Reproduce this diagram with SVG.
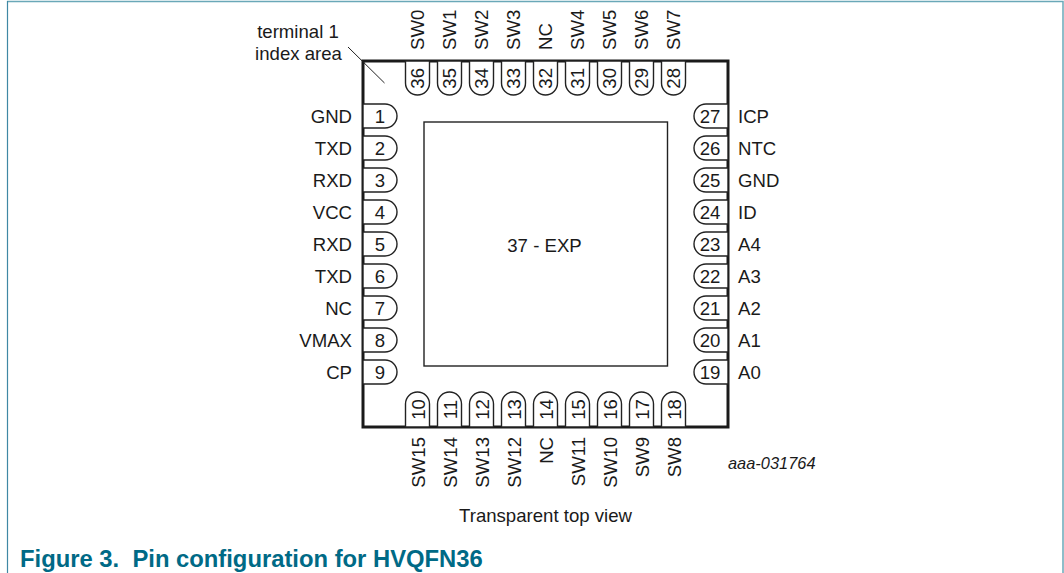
<svg xmlns="http://www.w3.org/2000/svg" xmlns:xlink="http://www.w3.org/1999/xlink" width="1064" height="573" viewBox="0 0 1064 573">
<style>
text{font-family:"Liberation Sans",Arial,sans-serif;font-size:18.6px;fill:#1a1a1a}
.m{text-anchor:middle}
.e{text-anchor:end}
.p{fill:#fff;stroke:#222;stroke-width:1.4}
.body{fill:#fff;stroke:#1a1a1a;stroke-width:3}
.pad{fill:#fff;stroke:#222;stroke-width:1.4}
.cap{font-weight:bold;font-size:23.8px;fill:#006a86;white-space:pre}
</style>
<defs>
<path id="pl" class="p" d="M0 -12H22A12 12 0 0 1 22 12H0Z"/>
<path id="pr" class="p" d="M0 -12H-22A12 12 0 0 0 -22 12H0Z"/>
<path id="pt" class="p" d="M-12 0V22A12 12 0 0 0 12 22V0Z"/>
<path id="pb" class="p" d="M-12 0V-23A12 12 0 0 1 12 -23V0Z"/>
</defs>
<g id="frame" fill="none">
<path d="M7 1.500H1063V573" stroke="#6aa8b8" stroke-width="1.500"/>
<path d="M7.500 1V573" stroke="#3f88a4" stroke-width="1.200"/>
</g>
<g id="package"><rect class="body" x="363" y="61" width="365" height="366"/></g>
<g id="connectors"><path d="M348 47L384.500 83" fill="none" stroke="#222" stroke-width="1"/></g>
<g id="exp"><rect class="pad" x="424" y="122" width="243.500" height="244"/><text class="m" x="544.500" y="251.500">37 - EXP</text></g>
<g id="index-label"><text class="m" x="298" y="37.700">terminal 1</text><text class="m" x="298.500" y="59.500">index area</text></g>

<g id="pin1"><use href="#pl" x="363" y="116"/><text class="m" x="380" y="122.500">1</text><text class="e" x="352" y="123">GND</text></g>
<g id="pin2"><use href="#pl" x="363" y="148"/><text class="m" x="380" y="154.500">2</text><text class="e" x="352" y="155">TXD</text></g>
<g id="pin3"><use href="#pl" x="363" y="180"/><text class="m" x="380" y="186.500">3</text><text class="e" x="352" y="187">RXD</text></g>
<g id="pin4"><use href="#pl" x="363" y="212"/><text class="m" x="380" y="218.500">4</text><text class="e" x="352" y="219">VCC</text></g>
<g id="pin5"><use href="#pl" x="363" y="244"/><text class="m" x="380" y="250.500">5</text><text class="e" x="352" y="251">RXD</text></g>
<g id="pin6"><use href="#pl" x="363" y="276"/><text class="m" x="380" y="282.500">6</text><text class="e" x="352" y="283">TXD</text></g>
<g id="pin7"><use href="#pl" x="363" y="308"/><text class="m" x="380" y="314.500">7</text><text class="e" x="352" y="315">NC</text></g>
<g id="pin8"><use href="#pl" x="363" y="340"/><text class="m" x="380" y="346.500">8</text><text class="e" x="352" y="347">VMAX</text></g>
<g id="pin9"><use href="#pl" x="363" y="372"/><text class="m" x="380" y="378.500">9</text><text class="e" x="352" y="379">CP</text></g>

<g id="pin27"><use href="#pr" x="728" y="116"/><text class="m" x="710" y="122.500">27</text><text x="738" y="123">ICP</text></g>
<g id="pin26"><use href="#pr" x="728" y="148"/><text class="m" x="710" y="154.500">26</text><text x="738" y="155">NTC</text></g>
<g id="pin25"><use href="#pr" x="728" y="180"/><text class="m" x="710" y="186.500">25</text><text x="738" y="187">GND</text></g>
<g id="pin24"><use href="#pr" x="728" y="212"/><text class="m" x="710" y="218.500">24</text><text x="738" y="219">ID</text></g>
<g id="pin23"><use href="#pr" x="728" y="244"/><text class="m" x="710" y="250.500">23</text><text x="738" y="251">A4</text></g>
<g id="pin22"><use href="#pr" x="728" y="276"/><text class="m" x="710" y="282.500">22</text><text x="738" y="283">A3</text></g>
<g id="pin21"><use href="#pr" x="728" y="308"/><text class="m" x="710" y="314.500">21</text><text x="738" y="315">A2</text></g>
<g id="pin20"><use href="#pr" x="728" y="340"/><text class="m" x="710" y="346.500">20</text><text x="738" y="347">A1</text></g>
<g id="pin19"><use href="#pr" x="728" y="372"/><text class="m" x="710" y="378.500">19</text><text x="738" y="379">A0</text></g>

<g id="pin36"><use href="#pt" x="417.500" y="61"/><text class="m" transform="translate(424.300 78.300) rotate(-90)">36</text><text transform="translate(424.300 50) rotate(-90)">SW0</text></g>
<g id="pin35"><use href="#pt" x="449.500" y="61"/><text class="m" transform="translate(456.300 78.300) rotate(-90)">35</text><text transform="translate(456.300 50) rotate(-90)">SW1</text></g>
<g id="pin34"><use href="#pt" x="481.500" y="61"/><text class="m" transform="translate(488.300 78.300) rotate(-90)">34</text><text transform="translate(488.300 50) rotate(-90)">SW2</text></g>
<g id="pin33"><use href="#pt" x="513.500" y="61"/><text class="m" transform="translate(520.300 78.300) rotate(-90)">33</text><text transform="translate(520.300 50) rotate(-90)">SW3</text></g>
<g id="pin32"><use href="#pt" x="545.500" y="61"/><text class="m" transform="translate(552.300 78.300) rotate(-90)">32</text><text transform="translate(552.300 50) rotate(-90)">NC</text></g>
<g id="pin31"><use href="#pt" x="577.500" y="61"/><text class="m" transform="translate(584.300 78.300) rotate(-90)">31</text><text transform="translate(584.300 50) rotate(-90)">SW4</text></g>
<g id="pin30"><use href="#pt" x="609.500" y="61"/><text class="m" transform="translate(616.300 78.300) rotate(-90)">30</text><text transform="translate(616.300 50) rotate(-90)">SW5</text></g>
<g id="pin29"><use href="#pt" x="641.500" y="61"/><text class="m" transform="translate(648.300 78.300) rotate(-90)">29</text><text transform="translate(648.300 50) rotate(-90)">SW6</text></g>
<g id="pin28"><use href="#pt" x="673.500" y="61"/><text class="m" transform="translate(680.300 78.300) rotate(-90)">28</text><text transform="translate(680.300 50) rotate(-90)">SW7</text></g>

<g id="pin10"><use href="#pb" x="417.500" y="427"/><text class="m" transform="translate(424.500 409.500) rotate(-90)">10</text><text class="e" transform="translate(424.500 437) rotate(-90)">SW15</text></g>
<g id="pin11"><use href="#pb" x="449.500" y="427"/><text class="m" transform="translate(456.500 409.500) rotate(-90)">11</text><text class="e" transform="translate(456.500 437) rotate(-90)">SW14</text></g>
<g id="pin12"><use href="#pb" x="481.500" y="427"/><text class="m" transform="translate(488.500 409.500) rotate(-90)">12</text><text class="e" transform="translate(488.500 437) rotate(-90)">SW13</text></g>
<g id="pin13"><use href="#pb" x="513.500" y="427"/><text class="m" transform="translate(520.500 409.500) rotate(-90)">13</text><text class="e" transform="translate(520.500 437) rotate(-90)">SW12</text></g>
<g id="pin14"><use href="#pb" x="545.500" y="427"/><text class="m" transform="translate(552.500 409.500) rotate(-90)">14</text><text class="e" transform="translate(552.500 437) rotate(-90)">NC</text></g>
<g id="pin15"><use href="#pb" x="577.500" y="427"/><text class="m" transform="translate(584.500 409.500) rotate(-90)">15</text><text class="e" transform="translate(584.500 437) rotate(-90)">SW11</text></g>
<g id="pin16"><use href="#pb" x="609.500" y="427"/><text class="m" transform="translate(616.500 409.500) rotate(-90)">16</text><text class="e" transform="translate(616.500 437) rotate(-90)">SW10</text></g>
<g id="pin17"><use href="#pb" x="641.500" y="427"/><text class="m" transform="translate(648.500 409.500) rotate(-90)">17</text><text class="e" transform="translate(648.500 437) rotate(-90)">SW9</text></g>
<g id="pin18"><use href="#pb" x="673.500" y="427"/><text class="m" transform="translate(680.500 409.500) rotate(-90)">18</text><text class="e" transform="translate(680.500 437) rotate(-90)">SW8</text></g>

<text x="728" y="468.500" style="font-style:italic;font-size:16.4px">aaa-031764</text>
<text class="m" x="545.500" y="522">Transparent top view</text>
<text class="cap" x="20" y="566.500">Figure 3.  Pin configuration for HVQFN36</text>
</svg>
